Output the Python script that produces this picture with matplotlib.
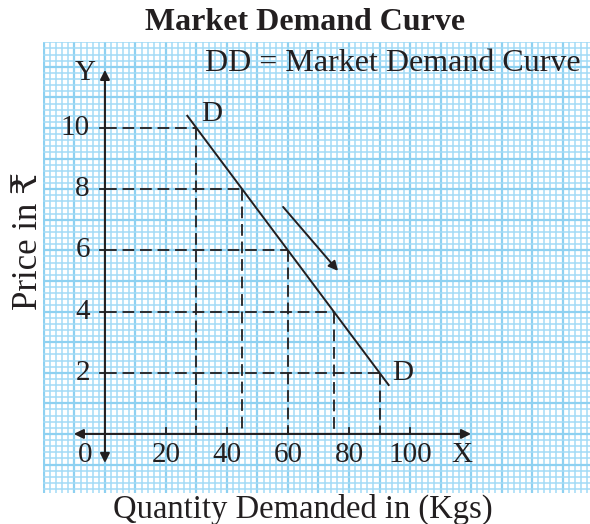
import matplotlib.pyplot as plt
from matplotlib.ticker import MultipleLocator

plt.rcParams['font.family'] = ['Liberation Serif', 'DejaVu Serif', 'DejaVu Sans']

# demand schedule
quantity = [30, 45, 60, 75, 90]
price = [10, 8, 6, 4, 2]
x_ticks = [20, 40, 60, 80, 100]
y_ticks = [2, 4, 6, 8, 10]
# demand line drawn a bit past the end points
line_q = [27, 93]
line_p = [10.4, 1.6]

ink = '#231f20'
blue_minor = '#a3dbf6'
blue_major = '#8ed1f1'

fig = plt.figure(figsize=(5.9, 5.24), dpi=100)
ax = fig.add_axes([0.0729, 0.0592, 0.9271, 0.8606])
ax.set_xlim(-20.3, 159)
ax.set_ylim(-1.93, 12.81)

# graph paper
ax.xaxis.set_minor_locator(MultipleLocator(2))
ax.xaxis.set_major_locator(MultipleLocator(10))
ax.yaxis.set_minor_locator(MultipleLocator(0.2))
ax.yaxis.set_major_locator(MultipleLocator(1))
ax.grid(which='minor', color=blue_minor, lw=1.1)
ax.grid(which='major', color=blue_major, lw=1.6)
ax.set_axisbelow(True)
ax.tick_params(which='both', length=0, labelbottom=False, labelleft=False)
for s in ax.spines.values():
    s.set_visible(False)

fs = 21

# axes with arrows
arr = dict(arrowstyle='<|-|>', color=ink, lw=1.5, mutation_scale=14,
           shrinkA=0, shrinkB=0)
ax.annotate('', xy=(120, 0), xytext=(-10.2, 0), arrowprops=arr)
ax.annotate('', xy=(0, 11.9), xytext=(0, -0.95), arrowprops=arr)

# ticks
for t in x_ticks:
    ax.plot([t, t], [0, 0.18], color=ink, lw=1.3)
    ax.text(t, -0.25, str(t), ha='center', va='top', fontsize=fs, color=ink)
for t in y_ticks:
    ax.plot([-1.6, 0], [t, t], color=ink, lw=1.3)
    ax.text(-4.9, t, str(t), ha='right', va='center', fontsize=fs, color=ink)
ax.text(-6.5, -0.25, '0', ha='center', va='top', fontsize=fs, color=ink)
ax.text(117, -0.25, 'X', ha='center', va='top', fontsize=fs, color=ink)
ax.text(-6.5, 11.8, 'Y', ha='center', va='center', fontsize=fs, color=ink)

# dashed guide lines
for q, p in zip(quantity, price):
    ax.plot([0, q], [p, p], color=ink, lw=1.3, ls=(0, (6.5, 3.2)))
    ax.plot([q, q], [p, 0], color=ink, lw=1.3, ls=(0, (6.5, 3.2)))

# demand curve
ax.plot(line_q, line_p, color=ink, lw=1.4)
ax.text(31.5, 10.45, 'D', ha='left', va='center', fontsize=fs, color=ink)
ax.text(94, 2.0, 'D', ha='left', va='center', fontsize=fs, color=ink)

# direction arrow
ax.annotate('', xy=(76.4, 5.33), xytext=(58.4, 7.42),
            arrowprops=dict(arrowstyle='-|>', color=ink, lw=1.4,
                            mutation_scale=14, shrinkA=0, shrinkB=0))

ax.text(0.983, 0.985, 'DD = Market Demand Curve', transform=ax.transAxes,
        ha='right', va='top', fontsize=23, color=ink)

fig.text(0.517, 0.958, 'Market Demand Curve', ha='center', va='center',
         fontsize=23, fontweight='bold', color=ink)
fig.text(0.514, 0.028, 'Quantity Demanded in (Kgs)', ha='center', va='center',
         fontsize=23.5, color=ink)
fig.text(0.049, 0.54, 'Price in ₹', ha='center', va='center', rotation=90,
         fontsize=25, color=ink)

fig.savefig('out.png', dpi=100)
